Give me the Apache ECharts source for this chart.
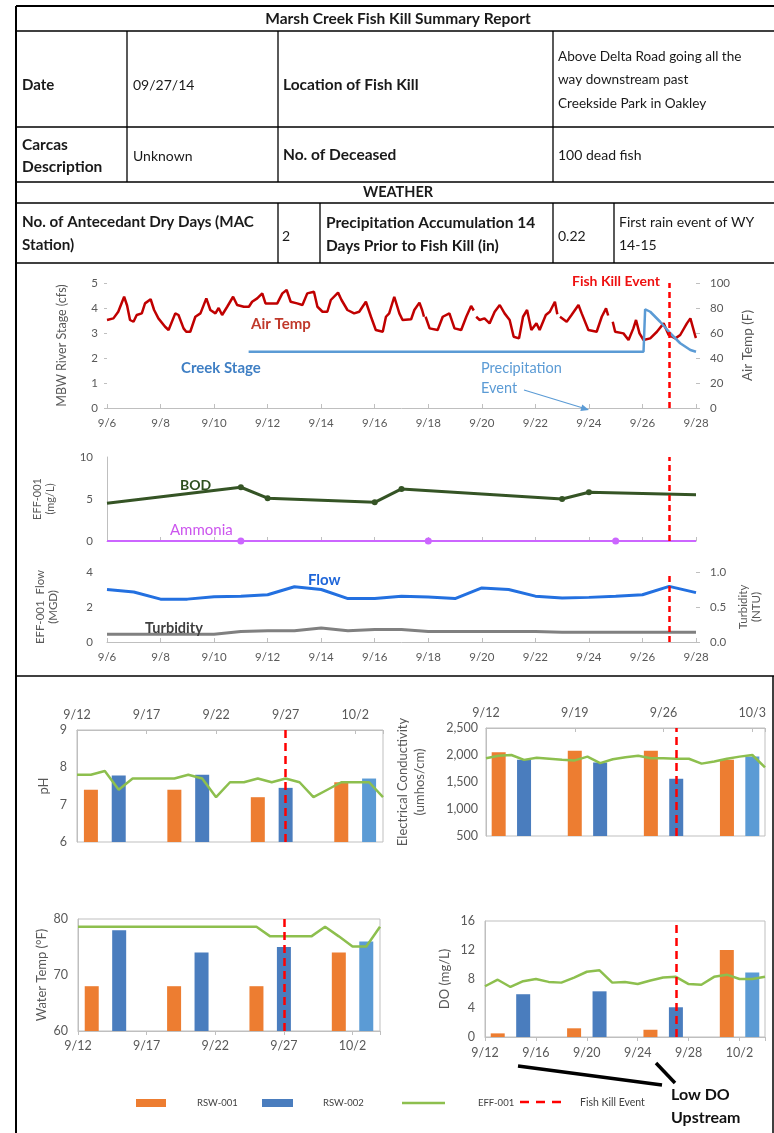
<!DOCTYPE html>
<html><head><meta charset="utf-8">
<script src="https://cdn.jsdelivr.net/npm/echarts@6/dist/echarts.min.js"></script>
<style>html,body{margin:0;padding:0;background:#fff}#c{width:774px;height:1133px}</style>
</head><body><div id="c"></div>
<script>
// ---------- DATA ----------
// Upper panels: x = days after 9/6 00:00
const upperTickLabels = ['9/6','9/8','9/10','9/12','9/14','9/16','9/18','9/20','9/22','9/24','9/26','9/28'];
const fishKillUpperDay = 21; // 9/27

const airTempDay = [0.00,0.24,0.42,0.64,0.75,0.86,0.99,1.11,1.30,1.42,1.63,1.76,1.92,2.17,2.30,2.55,2.67,2.86,2.96,3.11,3.30,3.49,3.71,3.86,4.05,4.17,4.30,4.49,4.71,4.86,5.11,5.30,5.42,5.61,5.80,5.92,6.10,6.36,6.55,6.71,6.86,7.10,7.30,7.48,7.73,7.86,8.05,8.23,8.36,8.63,8.76,8.98,9.23,9.42,9.67,9.86,10.04,10.30,10.42,10.54,10.73,10.92,11.04,11.36,11.48,11.67,11.77,11.84,11.87,11.90,12.05,12.35,12.54,12.79,12.98,13.23,13.42,13.60,13.70,13.75,13.79,13.92,14.10,14.29,14.48,14.67,14.85,15.04,15.19,15.39,15.54,15.69,15.85,16.04,16.16,16.39,16.54,16.73,16.82,16.87,16.92,17.17,17.35,17.61,17.73,17.98,18.29,18.48,18.64,18.72,18.80,18.89,18.98,19.29,19.48,19.66,19.76,19.89,20.04,20.29,20.54,20.79,20.98,21.23,21.41,21.66,21.79,21.98,22.00];
const airTempF   = [70.4,71.7,77,89,82,70.4,69,74.4,75.7,83.7,87,78.4,71.7,65,62.4,75.7,74.4,63.7,61,61,73,75.7,87.7,78.4,75.7,80,74.4,81,89,82.4,81,81,85,87.7,91.7,83.7,83.7,83.7,91.7,94.4,85,83.7,82.4,91.7,93,81,77,77,86.4,92.3,86.4,78.4,75.7,77,85,73,62.4,61,73,75.7,89,75.7,70.4,71,78.4,84.3,78.4,73,null,73,63.7,62.4,73,75.7,63.7,62.4,73,81.6,78,null,73,70.4,71.7,67.7,77,82.4,75.7,70.4,57,55.7,73,78.4,62.4,67.7,62.4,74.4,77,85,75,null,73,69,74.4,82.4,75.7,62.4,61,73,79.7,74,null,69,61,59.7,54.4,63.7,70.4,59.7,54.4,55.7,61,67.7,58.4,55.7,58.4,67.7,71.7,57,56];

const creekStageDay = [5.29,20.04,20.10,20.29,20.66,21.04,21.41,21.79,22.00];
const creekStageCfs = [2.25,2.25,3.95,3.85,3.45,2.99,2.59,2.32,2.25];

const bodDates = ['9/6','9/11','9/12','9/16','9/17','9/23','9/24','9/28'];
const bodMgL   = [4.5,6.4,5.1,4.6,6.2,5.0,5.8,5.5];
const ammoniaDates = ['9/6','9/11','9/18','9/25','9/28'];
const ammoniaMgL   = [0,0,0,0,0];

const flowDates = ['9/6','9/7','9/8','9/9','9/10','9/11','9/12','9/13','9/14','9/15','9/16','9/17','9/18','9/19','9/20','9/21','9/22','9/23','9/24','9/25','9/26','9/27','9/28'];
const flowMGD      = [3.0,2.86,2.45,2.45,2.58,2.62,2.7,3.16,3.0,2.48,2.48,2.62,2.57,2.48,3.09,3.0,2.62,2.52,2.55,2.62,2.7,3.18,2.82];
const turbidityNTU = [0.11,0.11,0.11,0.11,0.11,0.15,0.16,0.16,0.2,0.16,0.18,0.18,0.15,0.15,0.15,0.15,0.15,0.14,0.14,0.14,0.14,0.14,0.14];

// Lower panels: x = days after 9/12
const fishKillLowerDay = 15; // 9/27
const pHTicks = ['9/12','9/17','9/22','9/27','10/2'];
const ecTicks = ['9/12','9/19','9/26','10/3'];
const wtTicks = ['9/12','9/17','9/22','9/27','10/2'];
const doTicks = ['9/12','9/16','9/20','9/24','9/28','10/2'];

const rsw001Dates = ['9/13','9/19','9/25','10/1'];
const rsw002Dates = ['9/15','9/21','9/27','10/3'];
const effDates = ['9/12','9/13','9/14','9/15','9/16','9/17','9/18','9/19','9/20','9/21','9/22','9/23','9/24','9/25','9/26','9/27','9/28','9/29','9/30','10/1','10/2','10/3','10/4'];

const pH_rsw001 = [7.4,7.4,7.2,7.6];
const pH_rsw002 = [7.78,7.8,7.45,7.7];
const pH_eff    = [7.8,7.8,7.9,7.4,7.7,7.7,7.7,7.7,7.8,7.7,7.2,7.6,7.6,7.7,7.6,7.7,7.6,7.2,7.4,7.6,7.6,7.6,7.2];

const ec_rsw001 = [2050,2080,2080,1910];
const ec_rsw002 = [1910,1860,1560,1970];
const ec_eff    = [1940,1985,2000,1910,1950,1930,1910,1900,1970,1850,1920,1960,1985,1940,1940,1930,1930,1840,1880,1930,1970,2000,1770];

const wt_rsw001 = [68,68,68,74];
const wt_rsw002 = [78,74,75,76];
const wt_eff    = [78.6,78.6,78.6,78.6,78.6,78.6,78.6,78.6,78.6,78.6,78.6,78.6,78.6,78.6,76.9,76.9,76.9,76.9,78.6,76.9,75.1,75.1,78.6];

const do_rsw001 = [0.5,1.2,1.0,12];
const do_rsw002 = [5.9,6.3,4.1,8.9];
const do_eff    = [7.0,7.9,6.9,7.7,8.0,7.6,7.5,8.2,9.0,9.2,7.5,7.6,7.3,7.8,8.2,8.3,7.3,7.2,8.3,8.6,8.0,8.0,8.3];

// ---------- HELPERS ----------
function dayOf(label, baseSepDay){
  const p = label.split('/'); const m = +p[0], d = +p[1];
  return (m === 9 ? d : 30 + d) - baseSepDay;
}
const U = l => dayOf(l, 6);
const Lw = l => dayOf(l, 12);

const FONT = 'Lato, "Liberation Sans", sans-serif';
const AX = '#bfbfbf', LBL = '#595959';
const ORANGE = '#ed7d31', BLUE = '#4a7dbe', BLUE_L = '#5b9bd5', GREEN = '#8dbf4e', RED = '#ff0000';

function fishMark(x, dash){
  return {silent:true, symbol:'none', label:{show:false}, animation:false,
    lineStyle:{color:RED, width:2.5, type:dash}, data:[{xAxis:x}]};
}
function tickFmt(arr, step){ return v => (Math.abs(v/step - Math.round(v/step)) < 1e-6 && arr[Math.round(v/step)] !== undefined) ? arr[Math.round(v/step)] : ''; }

function upperX(gi, showLabels){
  return {gridIndex:gi, type:'value', min:0, max:22, interval:2,
    axisLine:{show:true, lineStyle:{color:AX}}, axisTick:{show:true, inside:true, length:4, lineStyle:{color:AX}},
    axisLabel:{show:showLabels, color:LBL, fontSize:11.5, fontFamily:FONT, margin:9, formatter:tickFmt(upperTickLabels,2)},
    splitLine:{show:false}};
}
function lowerX(gi, pos, ticks, step, margin){
  return {gridIndex:gi, type:'value', min:0, max:22, interval:step, position:pos,
    axisLine:{show:true, lineStyle:{color:AX}}, axisTick:{show:true, inside:pos==='top', length:4, lineStyle:{color:AX}},
    axisLabel:{color:LBL, fontSize:12.5, fontFamily:FONT, margin:margin, formatter:tickFmt(ticks,step)},
    splitLine:{show:false}};
}
function yAx(gi, opts){
  return Object.assign({gridIndex:gi, type:'value', splitLine:{show:false},
    axisLine:{show:true, lineStyle:{color:AX}}, axisTick:{show:false},
    axisLabel:{color:LBL, fontSize:11.5, fontFamily:FONT},
    nameLocation:'middle', nameRotate:90,
    nameTextStyle:{color:LBL, fontSize:11, fontFamily:FONT, lineHeight:13}}, opts);
}

function lowerSeries(xi, yi, r1, r2, eff){
  return [
    {type:'bar', name:'RSW-001', xAxisIndex:xi, yAxisIndex:yi, barWidth:14, barGap:'-100%', clip:true,
      itemStyle:{color:ORANGE}, data: rsw001Dates.map((d,i)=>[Lw(d), r1[i]])},
    {type:'bar', name:'RSW-002', xAxisIndex:xi, yAxisIndex:yi, barWidth:14, barGap:'-100%', clip:true,
      itemStyle:{color:BLUE}, data: rsw002Dates.map((d,i)=>({value:[Lw(d), r2[i]], itemStyle: i===rsw002Dates.length-1 ? {color:BLUE_L} : undefined}))},
    {type:'line', name:'EFF-001', xAxisIndex:xi, yAxisIndex:yi, z:4, symbol:'none', clip:true,
      lineStyle:{color:GREEN, width:2.5}, data: effDates.map((d,i)=>[Lw(d), eff[i]]),
      markLine: fishMark(fishKillLowerDay, [8,5])}
  ];
}

// ---------- GRAPHIC (table, annotations, legend) ----------
const G = [];
function L(x1,y1,x2,y2,w,c,dash){ G.push({type:'line', silent:true, z:100, shape:{x1,y1,x2,y2}, style:{stroke:c||'#000', lineWidth:w||1, lineDash:dash||null}}); }
function T(text,x,y,o){ o=o||{}; G.push({type:'text', silent:true, z:101, style:{text, x, y, fill:o.fill||'#1a1a1a', fontSize:o.size||14, fontWeight:o.bold?'bold':'normal', fontFamily:FONT, align:o.align||'left', verticalAlign:'middle', lineHeight:o.lh||16}}); }

// table frame
L(16,6,16,1133,2); L(16,6,774,6,2); L(773,676,773,1133,1.5);
[31,127,182,203,263].forEach(y=>L(16,y,774,y,1.3));
L(16,676,774,676,1.5);
[127,278,553].forEach(x=>L(x,31,x,182,1.3));
[278,320,553,614].forEach(x=>L(x,203,x,263,1.3));
T('Marsh Creek Fish Kill Summary Report',398,19,{bold:true,align:'center',size:15.5});
T('Date',22,85,{bold:true,size:15});
T('09/27/14',133,85,{size:14});
T('Location of Fish Kill',283,85,{bold:true,size:15.5});
T('Above Delta Road going all the\nway downstream past\nCreekside Park in Oakley',558,80,{lh:23.5,size:13.6});
T('Carcas\nDescription',22,156,{bold:true,lh:22,size:15.5});
T('Unknown',133,156,{size:14});
T('No. of Deceased',283,155,{bold:true,size:15.5});
T('100 dead fish',558,155,{size:14});
T('WEATHER',398,192,{bold:true,align:'center',size:14.5});
T('No. of Antecedant Dry Days (MAC\nStation)',22,234,{bold:true,lh:23,size:15.2});
T('2',282,236,{size:14});
T('Precipitation Accumulation 14\nDays Prior to Fish Kill (in)',326,234,{bold:true,lh:23,size:15.5});
T('0.22',558,236,{size:14});
T('First rain event of WY\n14-15',619,234,{lh:23,size:14});

// chart annotations
T('Fish Kill Event',572,281,{bold:true,fill:'#ee1111',size:14});
T('Air Temp',251,324,{bold:true,fill:'#c0392b',size:15});
T('Creek Stage',181,368,{bold:true,fill:'#3f7fc4',size:15});
T('Precipitation\nEvent',481,378,{fill:'#5b9bd5',size:14.5,lh:20});
L(524,390,583,408,1.2,'#5b9bd5');
G.push({type:'polygon', silent:true, z:100, shape:{points:[[589,410],[580.3,411.1],[582.3,404.4]]}, style:{fill:'#5b9bd5'}});
T('BOD',180,485,{bold:true,fill:'#2f4f1f',size:14});
T('Ammonia',170,530,{fill:'#cc55ee',size:15});
T('Flow',308,580,{bold:true,fill:'#1f66d9',size:15});
T('Turbidity',145,628,{bold:true,fill:'#404040',size:14.5});

// legend
G.push({type:'rect', silent:true, z:100, shape:{x:136,y:1099,width:30,height:8}, style:{fill:ORANGE}});
T('RSW-001',197,1103,{size:9.5,fill:'#404040'});
G.push({type:'rect', silent:true, z:100, shape:{x:262,y:1099,width:31,height:8}, style:{fill:BLUE}});
T('RSW-002',323,1103,{size:9.5,fill:'#404040'});
L(402,1103,445,1103,2.5,GREEN);
T('EFF-001',478,1103,{size:9.5,fill:'#404040'});
L(520,1102,567,1102,2.5,RED,[9,7]);
T('Fish Kill Event',580,1103,{size:10.5,fill:'#404040'});
T('Low DO\nUpstream',671,1106,{bold:true,size:16,fill:'#111',lh:23});
L(518,1066,662,1085,3.5,'#000');
L(656,1063,675,1083,3.5,'#000');

// ---------- OPTION ----------
const option = {
  animation:false,
  backgroundColor:'#fff',
  textStyle:{fontFamily:FONT},
  grid:[
    {left:107, top:283, width:589, height:125},
    {left:107, top:457, width:589, height:84},
    {left:107, top:572, width:589, height:70},
    {left:77, top:730, width:306, height:112, show:true, borderColor:AX, borderWidth:1},
    {left:486, top:728, width:279, height:108, show:true, borderColor:AX, borderWidth:1},
    {left:78, top:919, width:302, height:112, show:true, borderColor:AX, borderWidth:1},
    {left:485, top:921, width:280, height:116, show:true, borderColor:AX, borderWidth:1}
  ],
  xAxis:[
    upperX(0,true), upperX(1,false), upperX(2,true),
    lowerX(3,'top',pHTicks,5,9), lowerX(4,'top',ecTicks,7,9),
    lowerX(5,'bottom',wtTicks,5,8), lowerX(6,'bottom',doTicks,4,9)
  ],
  yAxis:[
    yAx(0,{min:0,max:5,interval:1,name:'MBW River Stage (cfs)',nameGap:39, axisLine:{show:false}, axisTick:{show:true,length:3,lineStyle:{color:AX}}, axisLabel:{color:LBL,fontSize:11.5,fontFamily:FONT,margin:9}, nameTextStyle:{color:LBL,fontSize:12.5,fontFamily:FONT}}),
    yAx(0,{position:'right',min:0,max:100,interval:20,name:'Air Temp (F)',nameGap:44, axisLine:{show:false}, axisTick:{show:true,length:4,lineStyle:{color:AX}}, axisLabel:{color:LBL,fontSize:11.5,fontFamily:FONT,margin:14}, nameTextStyle:{color:LBL,fontSize:13.5,fontFamily:FONT}}),
    yAx(1,{min:0,max:10,interval:5,name:'EFF-001\n(mg/L)',nameGap:50, axisLabel:{color:LBL,fontSize:11.5,fontFamily:FONT,margin:14}}),
    yAx(2,{min:0,max:4,interval:2,name:'EFF-001  Flow\n(MGD)',nameGap:47, axisLine:{show:false}, axisLabel:{color:LBL,fontSize:11.5,fontFamily:FONT,margin:14}, nameTextStyle:{color:LBL,fontSize:11.5,fontFamily:FONT,lineHeight:13}}),
    yAx(2,{position:'right',min:0,max:1,interval:0.5,name:'Turbidity\n(NTU)',nameGap:6, axisLine:{show:false}, axisTick:{show:true,length:4,lineStyle:{color:AX}}, axisLabel:{color:LBL,fontSize:11.5,fontFamily:FONT,margin:14,formatter:v=>v.toFixed(1)}, nameTextStyle:{color:LBL,fontSize:11.5,fontFamily:FONT,lineHeight:13}}),
    yAx(3,{min:6,max:9,interval:1,name:'pH',nameGap:27, axisLabel:{color:LBL,fontSize:12.5,fontFamily:FONT,margin:10}, nameTextStyle:{color:LBL,fontSize:13,fontFamily:FONT}}),
    yAx(4,{min:500,max:2500,interval:500,name:'Electrical Conductivity\n(umhos/cm)',nameGap:58, axisLabel:{color:LBL,fontSize:12.5,fontFamily:FONT,margin:8,formatter:v=>v.toLocaleString('en-US')}, nameTextStyle:{color:LBL,fontSize:13,fontFamily:FONT,lineHeight:17}}),
    yAx(5,{min:60,max:80,interval:10,name:'Water Temp (°F)',nameGap:30, axisLabel:{color:LBL,fontSize:12.5,fontFamily:FONT,margin:10}, nameTextStyle:{color:LBL,fontSize:13,fontFamily:FONT}}),
    yAx(6,{min:0,max:16,interval:4,name:'DO (mg/L)',nameGap:34, axisLabel:{color:LBL,fontSize:12.5,fontFamily:FONT,margin:10}, nameTextStyle:{color:LBL,fontSize:13,fontFamily:FONT}})
  ],
  series:[
    {type:'line', name:'Creek Stage', xAxisIndex:0, yAxisIndex:0, symbol:'none', z:3,
      lineStyle:{color:'#5b9bd5', width:2.5}, data: creekStageDay.map((d,i)=>[d, creekStageCfs[i]]),
      markLine: fishMark(fishKillUpperDay,[6,4])},
    {type:'line', name:'Air Temp', xAxisIndex:0, yAxisIndex:1, symbol:'none', connectNulls:false, z:2,
      lineStyle:{color:'#c00000', width:2.5}, data: airTempDay.map((d,i)=>[d, airTempF[i]===null ? '-' : airTempF[i]])},
    {type:'line', name:'BOD', xAxisIndex:1, yAxisIndex:2, symbolSize:6, showSymbol:true, z:3,
      lineStyle:{color:'#355425', width:3}, itemStyle:{color:'#355425'},
      data: bodDates.map((d,i)=>({value:[U(d), bodMgL[i]], symbol:(i===0||i===bodDates.length-1)?'none':'circle'})),
      markLine: fishMark(fishKillUpperDay,[6,4])},
    {type:'line', name:'Ammonia', xAxisIndex:1, yAxisIndex:2, symbolSize:7, showSymbol:true, z:3,
      lineStyle:{color:'#cc66ff', width:2}, itemStyle:{color:'#cc66ff'},
      data: ammoniaDates.map((d,i)=>({value:[U(d), ammoniaMgL[i]], symbol:(i===0||i===ammoniaDates.length-1)?'none':'circle'}))},
    {type:'line', name:'Flow', xAxisIndex:2, yAxisIndex:3, symbol:'none', z:3,
      lineStyle:{color:'#2370e0', width:3}, data: flowDates.map((d,i)=>[U(d), flowMGD[i]]),
      markLine: fishMark(fishKillUpperDay,[6,4])},
    {type:'line', name:'Turbidity', xAxisIndex:2, yAxisIndex:4, symbol:'none', z:2,
      lineStyle:{color:'#808080', width:3}, data: flowDates.map((d,i)=>[U(d), turbidityNTU[i]])},
    ...lowerSeries(3,5,pH_rsw001,pH_rsw002,pH_eff),
    ...lowerSeries(4,6,ec_rsw001,ec_rsw002,ec_eff),
    ...lowerSeries(5,7,wt_rsw001,wt_rsw002,wt_eff),
    ...lowerSeries(6,8,do_rsw001,do_rsw002,do_eff)
  ],
  graphic: G
};
const chart = echarts.init(document.getElementById('c'), null, {renderer:'canvas'});
chart.setOption(option);
</script></body></html>
